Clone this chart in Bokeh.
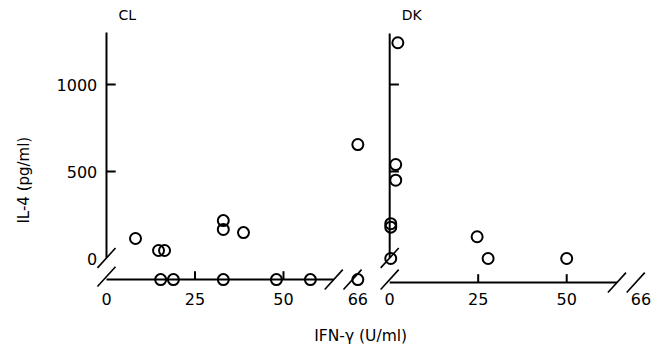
from bokeh.plotting import figure
from bokeh.models import Range1d
from bokeh.embed import file_html
from bokeh.resources import INLINE
from bokeh.core.properties import value
import math

# ---------------- data ----------------
panels = ["CL", "DK"]
cl_x = [8.2, 14.7, 16.4, 33.0, 33.0, 38.7, 66.0]
cl_y = [115, 46, 46, 218, 167, 149, 655]
cl_nd_x = [15.3, 18.9, 33.0, 48.0, 57.6, 66.0]      # IL-4 below detection
dk_x = [2.3, 1.7, 1.7, 0.3, 0.3, 0.3, 24.7, 27.8, 50.0]
dk_y = [1240, 540, 450, 200, 180, 0, 125, 0, 0]
dk_nd_x = []
x_ticks = [0, 25, 50, 66]
x_tick_labels = ["0", "25", "50", "66"]
y_ticks = [0, 500, 1000]
y_tick_labels = ["0", "500", "1000"]
x_title = "IFN-\u03b3 (U/ml)"
y_title = "IL-4 (pg/ml)"

# ---------------- layout helpers ----------------
FONT = value("DejaVu Sans")
BREAK_POS = 71.0          # where 66 sits after the axis break
panel_off = [0.0, 80.0]   # horizontal offset of each panel
base = [-121.0, -138.0]   # "below detection" baseline of each panel
y_top = [1299.0, 1293.0]


def px(x, i):
    return panel_off[i] + (BREAK_POS if x >= 66 else x)


p = figure(width=661, height=358, output_backend="svg", toolbar_location=None,
           x_range=Range1d(-29.94, 156.78), y_range=Range1d(-574.7, 1482.8),
           min_border=0)
p.axis.visible = False
p.grid.visible = False
p.outline_line_color = None
p.background_fill_color = "white"
p.border_fill_color = "white"

LW = 2
col = "black"
sx, sy = 2.55, 57.0  # half extents of break slash


def slash(cx, cy):
    return [cx - sx], [cy - sy], [cx + sx], [cy + sy]


for i, name in enumerate(panels):
    o = panel_off[i]
    b = base[i]
    # y axis
    p.segment([o], [4], [o], [y_top[i]], line_color=col, line_width=LW)
    # y ticks (inward)
    p.segment([o] * 2, [500, 1000], [o + 2.6] * 2, [500, 1000], line_color=col, line_width=LW)
    # y-axis break slash and origin slash
    x0, y0, x1, y1 = slash(o, 3)
    p.segment(x0, y0, x1, y1, line_color=col, line_width=1.6)
    x0, y0, x1, y1 = slash(o, b + 17)
    p.segment(x0, y0, x1, y1, line_color=col, line_width=1.6)
    # x axis line up to the break
    p.segment([o], [b], [o + 64.2], [b], line_color=col, line_width=LW)
    # break slashes on x axis
    for c in (64.2, 69.5):
        x0, y0, x1, y1 = slash(o + c, b)
        p.segment(x0, y0, x1, y1, line_color=col, line_width=1.6)
    # x ticks (inward, up)
    tx = [px(t, i) for t in x_ticks if 0 < t < 66]
    p.segment(tx, [b] * len(tx), tx, [b + 48] * len(tx), line_color=col, line_width=LW)
    # x tick labels
    p.text([px(t, i) for t in x_ticks], [-232] * len(x_ticks), text=x_tick_labels,
           text_font=FONT, text_font_size="16px", text_align="center",
           text_baseline="middle", text_color=col)
    # panel title
    p.text([o + 3.4], [1400], text=[name], text_font=FONT, text_font_size="14px",
           text_align="left", text_baseline="middle", text_color=col)

# y tick labels (left panel only)
p.text([-2.6] * 3, [0, 500, 1000], text=y_tick_labels, text_font=FONT,
       text_font_size="16px", text_align="right", text_baseline="middle", text_color=col)

# axis titles
p.text([71.8], [-443], text=[x_title], text_font=FONT, text_font_size="15.5px",
       text_align="center", text_baseline="middle", text_color=col)
p.text([-23.4], [450], text=[y_title], text_font=FONT, text_font_size="15px",
       text_align="center", text_baseline="middle", angle=math.pi / 2, text_color=col)

# data points
circ = dict(size=11, marker="circle", fill_color=None, line_color=col, line_width=2)
p.scatter([px(x, 0) for x in cl_x], cl_y, **circ)
p.scatter([px(x, 0) for x in cl_nd_x], [base[0]] * len(cl_nd_x), **circ)
p.scatter([px(x, 1) for x in dk_x], dk_y, **circ)
if dk_nd_x:
    p.scatter([px(x, 1) for x in dk_nd_x], [base[1]] * len(dk_nd_x), **circ)

open("out.html", "w").write(file_html(p, INLINE))
